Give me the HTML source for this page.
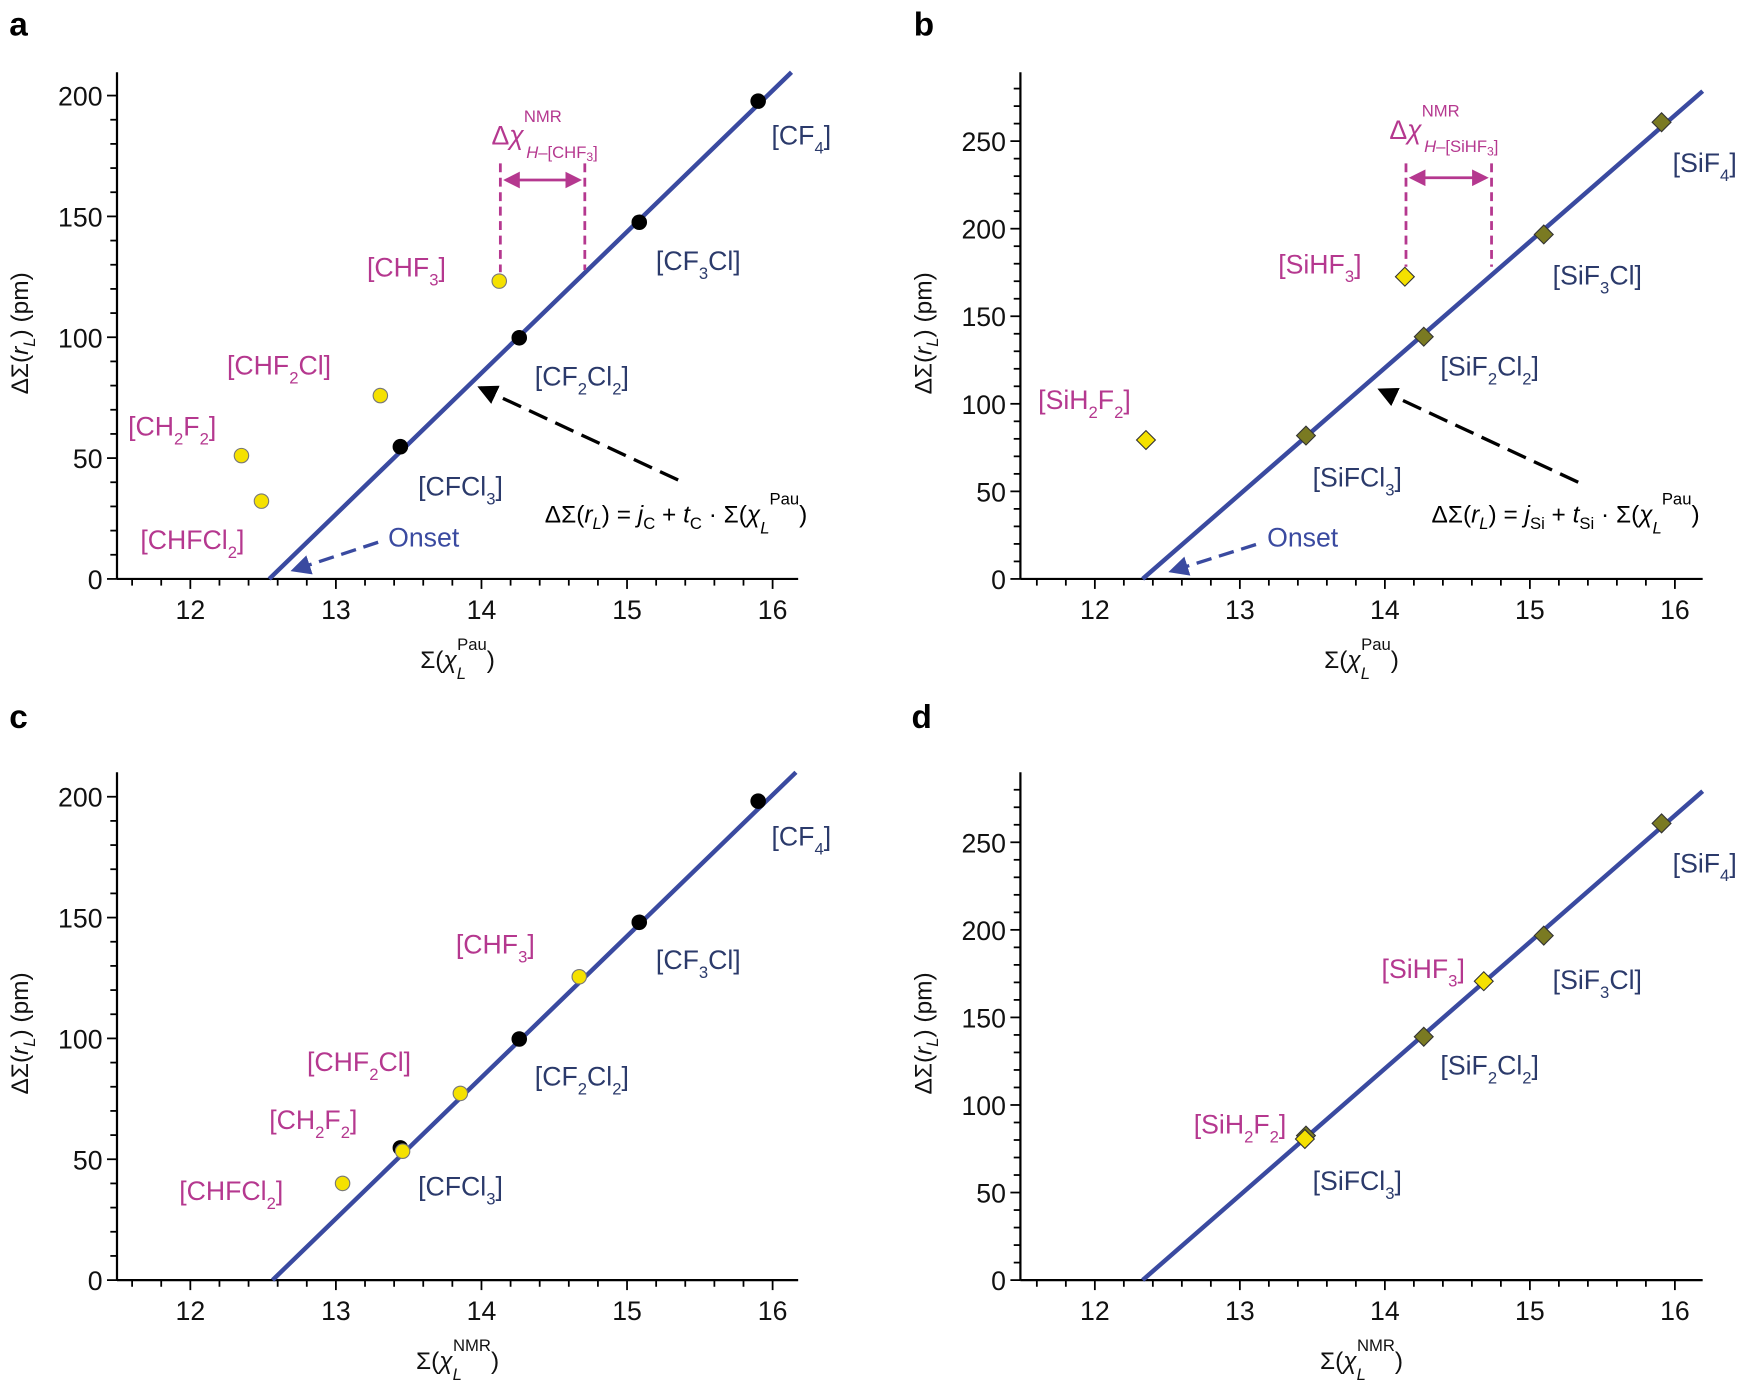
<!DOCTYPE html>
<html><head><meta charset="utf-8"><style>
html,body{margin:0;padding:0;background:#fff}
svg{display:block}
text{font-family:"Liberation Sans",sans-serif}
.t{font-size:24px;fill:#111}
.n{font-size:24px;fill:#2b3a6b}
.m{font-size:24px;fill:#b5388f}
.l{font-size:30px;font-weight:bold;fill:#000}
.s{font-size:15px}
</style></head><body>
<svg id="s" width="1743" height="1389" viewBox="0 0 1568 1250" xmlns="http://www.w3.org/2000/svg">
<defs>
<marker id="ab" markerWidth="6" markerHeight="6" refX="5" refY="3" orient="auto" markerUnits="strokeWidth"><path d="M0,0 L6,3 L0,6 z" fill="#000"/></marker>
<marker id="au" markerWidth="6" markerHeight="6" refX="5" refY="3" orient="auto" markerUnits="strokeWidth"><path d="M0,0 L6,3 L0,6 z" fill="#3a4aa0"/></marker>
<marker id="am" markerWidth="6" markerHeight="6" refX="5" refY="3" orient="auto-start-reverse" markerUnits="strokeWidth"><path d="M0,0 L6,3 L0,6 z" fill="#b5388f"/></marker>
</defs>
<g id="g"></g>
<text class="l" x="8" y="32">a</text>
<text class="l" x="822" y="32">b</text>
<text class="l" x="8" y="655">c</text>
<text class="l" x="820" y="655">d</text>

<!-- panel a -->
<line x1="242" y1="521" x2="712" y2="65" stroke="#3a4aa0" stroke-width="4"/>
<g stroke="#000" stroke-width="1">
<circle cx="360" cy="402" r="6.5" fill="#000"/><circle cx="467" cy="304" r="6.5" fill="#000"/><circle cx="575" cy="200" r="6.5" fill="#000"/><circle cx="682" cy="91" r="6.5" fill="#000"/>
<circle cx="217" cy="410" r="6.5" fill="#f5e100" stroke="#777"/><circle cx="235" cy="451" r="6.5" fill="#f5e100" stroke="#777"/><circle cx="342" cy="356" r="6.5" fill="#f5e100" stroke="#777"/><circle cx="449" cy="253" r="6.5" fill="#f5e100" stroke="#777"/>
</g>
<text class="n" x="694" y="130">[CF<tspan class="s" dy="8">4</tspan><tspan dy="-8">]</tspan></text>
<text class="n" x="590" y="243">[CF<tspan class="s" dy="8">3</tspan><tspan dy="-8">Cl]</tspan></text>
<text class="n" x="481" y="347">[CF<tspan class="s" dy="8">2</tspan><tspan dy="-8">Cl</tspan><tspan class="s" dy="8">2</tspan><tspan dy="-8">]</tspan></text>
<text class="n" x="376" y="446">[CFCl<tspan class="s" dy="8">3</tspan><tspan dy="-8">]</tspan></text>
<text class="m" x="330" y="249">[CHF<tspan class="s" dy="8">3</tspan><tspan dy="-8">]</tspan></text>
<text class="m" x="204" y="337">[CHF<tspan class="s" dy="8">2</tspan><tspan dy="-8">Cl]</tspan></text>
<text class="m" x="115" y="392">[CH<tspan class="s" dy="8">2</tspan><tspan dy="-8">F</tspan><tspan class="s" dy="8">2</tspan><tspan dy="-8">]</tspan></text>
<text class="m" x="126" y="494">[CHFCl<tspan class="s" dy="8">2</tspan><tspan dy="-8">]</tspan></text>
<text x="349" y="492" style="font-size:24px;fill:#3a4aa0">Onset</text>
<line x1="340" y1="488" x2="264" y2="513" stroke="#3a4aa0" stroke-width="3" stroke-dasharray="14,7" marker-end="url(#au)"/>
<line x1="610" y1="432" x2="432" y2="349" stroke="#000" stroke-width="3" stroke-dasharray="18,8" marker-end="url(#ab)"/>
<text x="490" y="470" style="font-size:22px;fill:#000">ΔΣ(<tspan font-style="italic">r</tspan><tspan class="s" dy="6" font-style="italic">L</tspan><tspan dy="-6">) = </tspan><tspan font-style="italic">j</tspan><tspan class="s" dy="6">C</tspan><tspan dy="-6"> + </tspan><tspan font-style="italic">t</tspan><tspan class="s" dy="6">C</tspan><tspan dy="-6"> · Σ(</tspan><tspan font-style="italic">χ</tspan><tspan class="s" dy="10" font-style="italic">L</tspan><tspan class="s" dy="-26">Pau</tspan><tspan dy="16">)</tspan></text>
<text x="442" y="130" style="font-size:24px;fill:#b5388f">Δ<tspan font-style="italic">χ</tspan><tspan class="s" dy="-20">NMR</tspan><tspan class="s" dx="-32" dy="32" font-style="italic">H</tspan><tspan class="s">–[CHF</tspan><tspan style="font-size:11px" dy="3">3</tspan><tspan class="s" dy="-3">]</tspan></text>
<g stroke="#b5388f" stroke-width="2.5" stroke-dasharray="8,5"><line x1="450" y1="147" x2="450" y2="245"/><line x1="526" y1="147" x2="526" y2="243"/></g>
<line x1="455" y1="162" x2="521" y2="162" stroke="#b5388f" stroke-width="2.5" marker-start="url(#am)" marker-end="url(#am)"/>

<!-- panel b -->
<line x1="1028" y1="521" x2="1532" y2="82" stroke="#3a4aa0" stroke-width="4"/>
<g stroke="#333" stroke-width="1">
<rect x="-6" y="-6" width="12" height="12" fill="#7a7a22" transform="translate(1175,392) rotate(45)"/>
<rect x="-6" y="-6" width="12" height="12" fill="#7a7a22" transform="translate(1281,303) rotate(45)"/>
<rect x="-6" y="-6" width="12" height="12" fill="#7a7a22" transform="translate(1389,211) rotate(45)"/>
<rect x="-6" y="-6" width="12" height="12" fill="#7a7a22" transform="translate(1495,110) rotate(45)"/>
<rect x="-6" y="-6" width="12" height="12" fill="#f5e100" transform="translate(1031,396) rotate(45)"/>
<rect x="-6" y="-6" width="12" height="12" fill="#f5e100" transform="translate(1264,249) rotate(45)"/>
</g>
<text class="n" x="1505" y="155">[SiF<tspan class="s" dy="8">4</tspan><tspan dy="-8">]</tspan></text>
<text class="n" x="1397" y="256">[SiF<tspan class="s" dy="8">3</tspan><tspan dy="-8">Cl]</tspan></text>
<text class="n" x="1296" y="338">[SiF<tspan class="s" dy="8">2</tspan><tspan dy="-8">Cl</tspan><tspan class="s" dy="8">2</tspan><tspan dy="-8">]</tspan></text>
<text class="n" x="1181" y="438">[SiFCl<tspan class="s" dy="8">3</tspan><tspan dy="-8">]</tspan></text>
<text class="m" x="1150" y="246">[SiHF<tspan class="s" dy="8">3</tspan><tspan dy="-8">]</tspan></text>
<text class="m" x="934" y="368">[SiH<tspan class="s" dy="8">2</tspan><tspan dy="-8">F</tspan><tspan class="s" dy="8">2</tspan><tspan dy="-8">]</tspan></text>
<text x="1140" y="492" style="font-size:24px;fill:#3a4aa0">Onset</text>
<line x1="1130" y1="490" x2="1054" y2="514" stroke="#3a4aa0" stroke-width="3" stroke-dasharray="14,7" marker-end="url(#au)"/>
<line x1="1420" y1="434" x2="1242" y2="351" stroke="#000" stroke-width="3" stroke-dasharray="18,8" marker-end="url(#ab)"/>
<text x="1288" y="470" style="font-size:22px;fill:#000">ΔΣ(<tspan font-style="italic">r</tspan><tspan class="s" dy="6" font-style="italic">L</tspan><tspan dy="-6">) = </tspan><tspan font-style="italic">j</tspan><tspan class="s" dy="6">Si</tspan><tspan dy="-6"> + </tspan><tspan font-style="italic">t</tspan><tspan class="s" dy="6">Si</tspan><tspan dy="-6"> · Σ(</tspan><tspan font-style="italic">χ</tspan><tspan class="s" dy="10" font-style="italic">L</tspan><tspan class="s" dy="-26">Pau</tspan><tspan dy="16">)</tspan></text>
<text x="1250" y="125" style="font-size:24px;fill:#b5388f">Δ<tspan font-style="italic">χ</tspan><tspan class="s" dy="-20">NMR</tspan><tspan class="s" dx="-32" dy="32" font-style="italic">H</tspan><tspan class="s">–[SiHF</tspan><tspan style="font-size:11px" dy="3">3</tspan><tspan class="s" dy="-3">]</tspan></text>
<g stroke="#b5388f" stroke-width="2.5" stroke-dasharray="8,5"><line x1="1265" y1="147" x2="1265" y2="240"/><line x1="1342" y1="147" x2="1342" y2="240"/></g>
<line x1="1270" y1="160" x2="1337" y2="160" stroke="#b5388f" stroke-width="2.5" marker-start="url(#am)" marker-end="url(#am)"/>

<!-- panel c -->
<line x1="245" y1="1152" x2="716" y2="695" stroke="#3a4aa0" stroke-width="4"/>
<g stroke="#777" stroke-width="1">
<circle cx="360" cy="1033" r="6.5" fill="#000" stroke="#000"/><circle cx="467" cy="935" r="6.5" fill="#000" stroke="#000"/><circle cx="575" cy="830" r="6.5" fill="#000" stroke="#000"/><circle cx="682" cy="721" r="6.5" fill="#000" stroke="#000"/>
<circle cx="308" cy="1065" r="6.5" fill="#f5e100"/><circle cx="362" cy="1036" r="6.5" fill="#f5e100"/><circle cx="414" cy="984" r="6.5" fill="#f5e100"/><circle cx="521" cy="879" r="6.5" fill="#f5e100"/>
</g>
<text class="n" x="694" y="761">[CF<tspan class="s" dy="8">4</tspan><tspan dy="-8">]</tspan></text>
<text class="n" x="590" y="872">[CF<tspan class="s" dy="8">3</tspan><tspan dy="-8">Cl]</tspan></text>
<text class="n" x="481" y="977">[CF<tspan class="s" dy="8">2</tspan><tspan dy="-8">Cl</tspan><tspan class="s" dy="8">2</tspan><tspan dy="-8">]</tspan></text>
<text class="n" x="376" y="1076">[CFCl<tspan class="s" dy="8">3</tspan><tspan dy="-8">]</tspan></text>
<text class="m" x="410" y="858">[CHF<tspan class="s" dy="8">3</tspan><tspan dy="-8">]</tspan></text>
<text class="m" x="276" y="964">[CHF<tspan class="s" dy="8">2</tspan><tspan dy="-8">Cl]</tspan></text>
<text class="m" x="242" y="1016">[CH<tspan class="s" dy="8">2</tspan><tspan dy="-8">F</tspan><tspan class="s" dy="8">2</tspan><tspan dy="-8">]</tspan></text>
<text class="m" x="161" y="1080">[CHFCl<tspan class="s" dy="8">2</tspan><tspan dy="-8">]</tspan></text>

<!-- panel d -->
<line x1="1028" y1="1152" x2="1532" y2="712" stroke="#3a4aa0" stroke-width="4"/>
<g stroke="#333" stroke-width="1">
<rect x="-6" y="-6" width="12" height="12" fill="#7a7a22" transform="translate(1175,1022) rotate(45)"/>
<rect x="-6" y="-6" width="12" height="12" fill="#7a7a22" transform="translate(1281,933) rotate(45)"/>
<rect x="-6" y="-6" width="12" height="12" fill="#7a7a22" transform="translate(1389,842) rotate(45)"/>
<rect x="-6" y="-6" width="12" height="12" fill="#7a7a22" transform="translate(1495,741) rotate(45)"/>
<rect x="-6" y="-6" width="12" height="12" fill="#f5e100" transform="translate(1174,1025) rotate(45)"/>
<rect x="-6" y="-6" width="12" height="12" fill="#f5e100" transform="translate(1335,883) rotate(45)"/>
</g>
<text class="n" x="1505" y="785">[SiF<tspan class="s" dy="8">4</tspan><tspan dy="-8">]</tspan></text>
<text class="n" x="1397" y="890">[SiF<tspan class="s" dy="8">3</tspan><tspan dy="-8">Cl]</tspan></text>
<text class="n" x="1296" y="967">[SiF<tspan class="s" dy="8">2</tspan><tspan dy="-8">Cl</tspan><tspan class="s" dy="8">2</tspan><tspan dy="-8">]</tspan></text>
<text class="n" x="1181" y="1071">[SiFCl<tspan class="s" dy="8">3</tspan><tspan dy="-8">]</tspan></text>
<text class="m" x="1243" y="880">[SiHF<tspan class="s" dy="8">3</tspan><tspan dy="-8">]</tspan></text>
<text class="m" x="1074" y="1020">[SiH<tspan class="s" dy="8">2</tspan><tspan dy="-8">F</tspan><tspan class="s" dy="8">2</tspan><tspan dy="-8">]</tspan></text>
</svg>
<script>
var g=document.getElementById('g'),NS='http://www.w3.org/2000/svg';
function el(t,a,txt){var e=document.createElementNS(NS,t);for(var k in a)e.setAttribute(k,a[k]);if(txt!=null)e.textContent=txt;g.appendChild(e);return e;}
function axes(ax,x12,xs,y0,ys,ymax,ystep,ytop,xr,title,sup,ycx){
 el('line',{x1:ax,y1:ytop,x2:ax,y2:y0,stroke:'#000','stroke-width':2});
 el('line',{x1:ax,y1:y0,x2:xr,y2:y0,stroke:'#000','stroke-width':2});
 for(var v=11.6;v<=16.21;v+=0.2){var x=x12+(v-12)*xs;if(x<ax+3||x>xr+1)continue;var maj=Math.abs(v-Math.round(v))<0.01;
  el('line',{x1:x,y1:y0,x2:x,y2:y0+(maj?9:6),stroke:'#000','stroke-width':1.6});
  if(maj)el('text',{x:x,y:y0+36,'text-anchor':'middle','class':'t'},Math.round(v));}
 for(var p=0;p<=ymax;p+=10){var y=y0-p*ys;if(y<ytop)break;var maj=p%ystep==0;
  el('line',{x1:ax,y1:y,x2:ax-(maj?9:6),y2:y,stroke:'#000','stroke-width':1.6});
  if(maj)el('text',{x:ax-13,y:y+9,'text-anchor':'end','class':'t'},p);}
 var t=el('text',{x:(ax+xr)/2,y:y0+80,'text-anchor':'middle',style:'font-size:22px;fill:#111'});
 t.innerHTML='Σ(<tspan font-style="italic">χ</tspan><tspan class="s" dy="10" font-style="italic">L</tspan><tspan class="s" dy="-26" dx="-8">'+sup+'</tspan><tspan dy="16">)</tspan>';
 var yl=el('text',{x:0,y:0,'text-anchor':'middle',style:'font-size:22px;fill:#111',transform:'translate('+(ax-80)+','+ycx+') rotate(-90)'});
 yl.innerHTML='ΔΣ(<tspan font-style="italic">r</tspan><tspan class="s" dy="6" font-style="italic">L</tspan><tspan dy="-6">) (pm)</tspan>';
}
axes(105,171,131,521,2.175,200,50,65,718,'','Pau',300);
axes(918,985,130.5,521,1.576,280,50,65,1532,'','Pau',300);
axes(105,171,131,1152,2.175,200,50,695,718,'','NMR',930);
axes(918,985,130.5,1152,1.576,280,50,695,1532,'','NMR',930);
</script>
</body></html>
